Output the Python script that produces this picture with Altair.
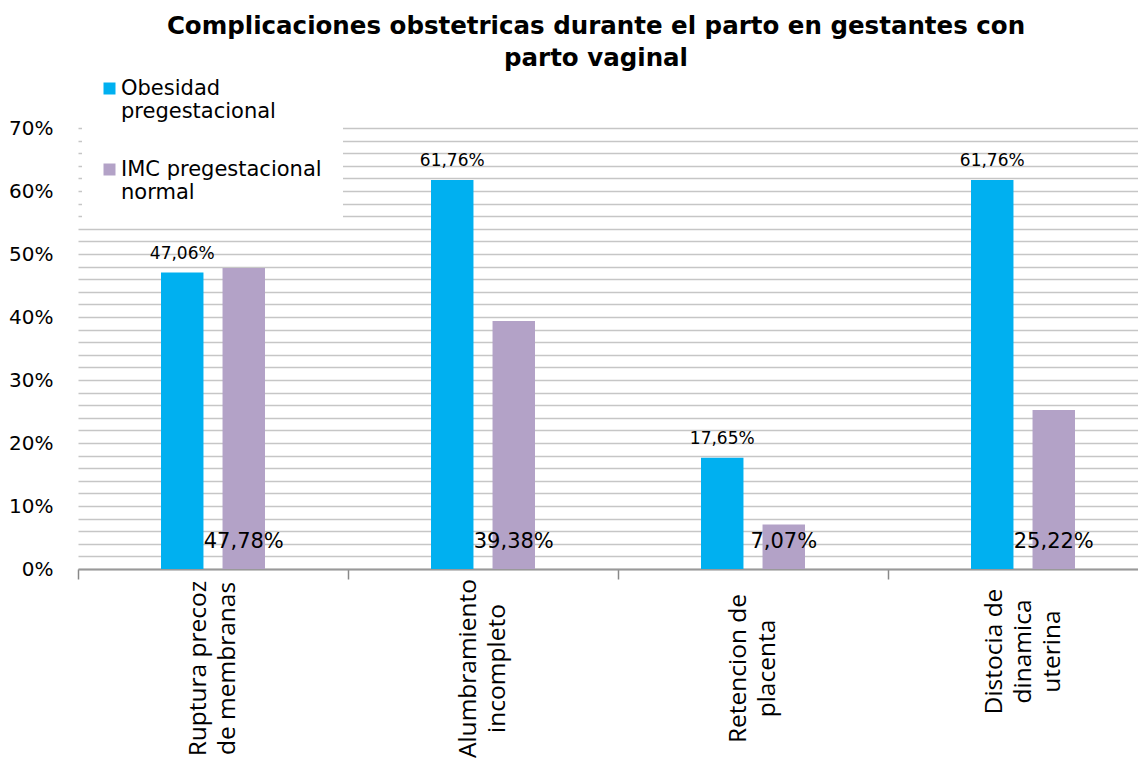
import altair as alt
import pandas as pd

categories = [
    "Ruptura precoz\nde membranas",
    "Alumbramiento\nincompleto",
    "Retencion de\nplacenta",
    "Distocia de\ndinamica\nuterina",
]
series = ["Obesidad pregestacional", "IMC pregestacional normal"]
obesidad = [47.06, 61.76, 17.65, 61.76]
imc_normal = [47.78, 39.38, 7.07, 25.22]
colors = ["#00B0F0", "#B3A2C7"]
y_grid = list(range(0, 72, 2))
title_lines = ["Complicaciones obstetricas durante el parto en gestantes  con", "parto vaginal"]


def fmt(v):
    return f"{v:.2f}%".replace(".", ",")


rows = []
for c, a, b in zip(categories, obesidad, imc_normal):
    rows.append({"cat": c, "serie": series[0], "val": a, "lab": fmt(a)})
    rows.append({"cat": c, "serie": series[1], "val": b, "lab": fmt(b)})
df = pd.DataFrame(rows)

three_lines = "length(split(datum.label, '\\n')) >= 3"

x_enc = alt.X(
    "cat:N",
    sort=categories,
    title=None,
    scale=alt.Scale(range=[0, 1080], paddingInner=0, paddingOuter=0),
    axis=alt.Axis(
        labelExpr="split(datum.label, '\\n')",
        labelAngle=270,
        labelAlign="center",
        labelBaseline="middle",
        labelFont="Open Sans",
        labelFontSize=24.5,
        labelLineHeight=29,
        labelColor="#000000",
        labelPadding={"condition": {"test": three_lines, "value": 72}, "value": 89},
        labelOffset={"condition": {"test": three_lines, "value": -29}, "value": -14.5},
        labelLimit=1000,
        tickBand="extent",
        tickSize=10,
        tickColor="#888888",
        tickWidth=1.5,
        domainColor="#999999",
        domainWidth=2,
        grid=False,
    ),
)
xoff_enc = alt.XOffset(
    "serie:N",
    sort=series,
    scale=alt.Scale(domain=series, range=[83, 187], paddingInner=0.31, paddingOuter=0),
)

y_scale = alt.Scale(domain=[0, 70], nice=False)
y_axis = alt.Axis(
    values=y_grid,
    labelExpr="datum.value % 10 === 0 ? datum.value + '%' : ''",
    labelFont="DejaVu Sans",
    labelFontSize=20,
    labelColor="#000000",
    labelPadding=25,
    labelOverlap=False,
    ticks=False,
    domain=False,
    gridColor="#c6c6c6",
    gridWidth=1.5,
)

base = alt.Chart(df).encode(x=x_enc, xOffset=xoff_enc)

bars = base.mark_bar().encode(
    y=alt.Y("val:Q", title=None, scale=y_scale, axis=y_axis),
    color=alt.Color(
        "serie:N",
        sort=series,
        scale=alt.Scale(domain=series, range=colors),
        legend=alt.Legend(
            title=None,
            orient="none",
            legendX=4,
            legendY=-71,
            fillColor="#ffffff",
            padding=21,
            symbolType="square",
            symbolSize=144,
            symbolStrokeWidth=0,
            symbolOffset=-4,
            labelFont="DejaVu Sans",
            labelFontSize=21,
            labelColor="#000000",
            labelOffset=1,
            labelLimit=400,
            labelBaseline="middle",
            rowPadding=36,
            labelExpr="datum.label == 'Obesidad pregestacional' ? ['Obesidad', 'pregestacional'] : ['IMC pregestacional', 'normal']",
        ),
    ),
)

top_labels = base.transform_filter(alt.datum.serie == series[0]).mark_text(
    baseline="alphabetic", dy=-14, fontSize=17, font="DejaVu Sans", color="#000000"
).encode(y=alt.Y("val:Q", title=None, scale=y_scale, axis=y_axis), text="lab:N")

bottom_labels = base.transform_filter(alt.datum.serie == series[1]).mark_text(
    baseline="alphabetic", dy=-21, fontSize=21, font="DejaVu Sans", color="#000000"
).encode(y=alt.YDatum(0, scale=y_scale, axis=y_axis, type="quantitative"), text="lab:N")

chart = (
    alt.layer(bars, top_labels, bottom_labels)
    .properties(
        width=1060,
        height=441,
        autosize=alt.AutoSizeParams(type="none"),
        padding={"left": 70, "top": 120, "right": 0, "bottom": 189},
        title=alt.Title(
            title_lines,
            font="DejaVu Sans",
            fontWeight="bold",
            fontSize=24.5,
            lineHeight=32,
            color="#000000",
            anchor="middle",
            frame="group",
            dx=-12,
            offset=-14,
        ),
    )
    .configure_view(stroke=None)
)

chart.save("out.html", embed_options={"renderer": "svg", "actions": False})
